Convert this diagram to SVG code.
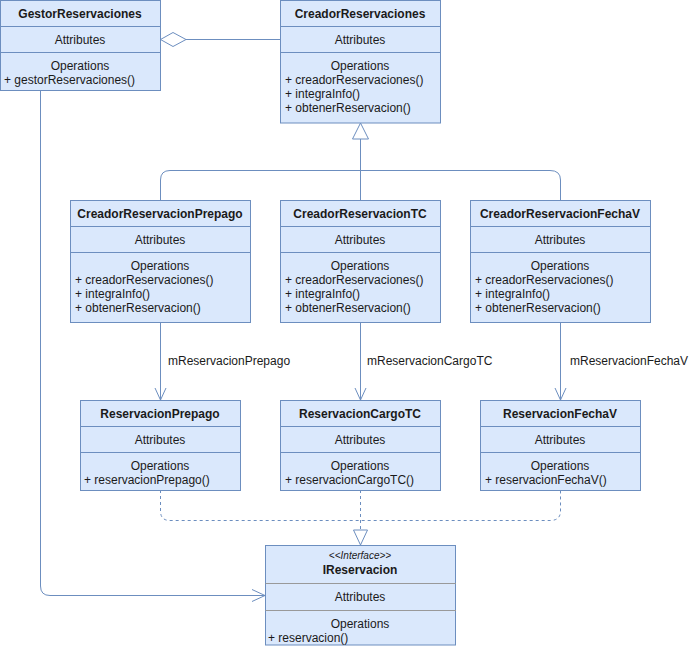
<svg xmlns="http://www.w3.org/2000/svg" width="690" height="646" viewBox="0 0 690 646">
<style>
.box{fill:#dae8fc;stroke:#6c8ebf;stroke-width:1}
.div{stroke:#6c8ebf;stroke-width:1}
.gdiv{stroke:#999999;stroke-width:1}
text{font-family:"Liberation Sans",Arial,sans-serif;font-size:12px;fill:#1a1a1a}
.t{font-weight:bold;text-anchor:middle}
.c{text-anchor:middle}
.it{font-style:italic;font-size:10px;text-anchor:middle}
.ln{fill:none;stroke:#6c8ebf;stroke-width:1}
.dash{fill:none;stroke:#6c8ebf;stroke-width:1;stroke-dasharray:3 3}
.head{fill:none;stroke:#6c8ebf;stroke-width:1}
.tri{fill:#ffffff;stroke:#6c8ebf;stroke-width:1}
</style>
<rect width="690" height="646" fill="#ffffff"/>
<g id="connectors">
  <line class="ln" x1="186" y1="39.5" x2="280" y2="39.5"/>
  <polygon class="tri" points="160.5,39.5 173,32.5 186,39.5 173,46.5"/>
  <path class="ln" d="M160.5,200 V180 Q160.5,170.5 170,170.5 H550 Q560.5,170.5 560.5,180 V200"/>
  <line class="ln" x1="360.5" y1="139" x2="360.5" y2="200"/>
  <polygon class="tri" points="360.5,123 352.5,139 368.5,139"/>
  <line class="ln" x1="160.5" y1="322" x2="160.5" y2="400"/>
  <polyline class="head" points="155,388 160.5,400 166,388"/>
  <line class="ln" x1="360.5" y1="322" x2="360.5" y2="400"/>
  <polyline class="head" points="355,388 360.5,400 366,388"/>
  <line class="ln" x1="560.5" y1="322" x2="560.5" y2="400"/>
  <polyline class="head" points="555,388 560.5,400 566,388"/>
  <text x="168" y="365">mReservacionPrepago</text>
  <text x="367" y="365">mReservacionCargoTC</text>
  <text x="570" y="365">mReservacionFechaV</text>
  <path class="dash" d="M160.5,490 V511 Q160.5,520.5 170,520.5 H550 Q560.5,520.5 560.5,511 V490"/>
  <line class="dash" x1="360.5" y1="490" x2="360.5" y2="530"/>
  <polygon class="tri" points="353.5,530 367.5,530 360.5,545"/>
  <path class="ln" d="M40.5,90 V586 Q40.5,595.5 50,595.5 H265"/>
  <polyline class="head" points="252,589.5 265,595.5 252,601.5"/>
</g>
<g id="GestorReservaciones">
  <rect class="box" x="0.5" y="0.5" width="160" height="90"/>
  <line class="div" x1="0.5" y1="26.5" x2="160.5" y2="26.5"/>
  <line class="div" x1="0.5" y1="52.5" x2="160.5" y2="52.5"/>
  <text class="t" x="80" y="18">GestorReservaciones</text>
  <text class="c" x="80" y="44">Attributes</text>
  <text class="c" x="80" y="70">Operations</text>
  <text x="4" y="84">+ gestorReservaciones()</text>
</g>
<g id="CreadorReservaciones">
  <rect class="box" x="280.5" y="0.5" width="160" height="122.5"/>
  <line class="div" x1="280.5" y1="26.5" x2="440.5" y2="26.5"/>
  <line class="div" x1="280.5" y1="52.5" x2="440.5" y2="52.5"/>
  <text class="t" x="360" y="18">CreadorReservaciones</text>
  <text class="c" x="360" y="44">Attributes</text>
  <text class="c" x="360" y="70">Operations</text>
  <text x="285" y="84">+ creadorReservaciones()</text>
  <text x="285" y="98">+ integraInfo()</text>
  <text x="285" y="112">+ obtenerReservacion()</text>
</g>
<g id="CreadorReservacionPrepago">
  <rect class="box" x="70.5" y="200.5" width="180" height="122"/>
  <line class="div" x1="70.5" y1="226.5" x2="250.5" y2="226.5"/>
  <line class="div" x1="70.5" y1="252.5" x2="250.5" y2="252.5"/>
  <text class="t" x="160" y="218">CreadorReservacionPrepago</text>
  <text class="c" x="160" y="244">Attributes</text>
  <text class="c" x="160" y="270">Operations</text>
  <text x="75" y="284">+ creadorReservaciones()</text>
  <text x="75" y="298">+ integraInfo()</text>
  <text x="75" y="312">+ obtenerReservacion()</text>
</g>
<g id="CreadorReservacionTC">
  <rect class="box" x="280.5" y="200.5" width="160" height="122"/>
  <line class="div" x1="280.5" y1="226.5" x2="440.5" y2="226.5"/>
  <line class="div" x1="280.5" y1="252.5" x2="440.5" y2="252.5"/>
  <text class="t" x="360" y="218">CreadorReservacionTC</text>
  <text class="c" x="360" y="244">Attributes</text>
  <text class="c" x="360" y="270">Operations</text>
  <text x="285" y="284">+ creadorReservaciones()</text>
  <text x="285" y="298">+ integraInfo()</text>
  <text x="285" y="312">+ obtenerReservacion()</text>
</g>
<g id="CreadorReservacionFechaV">
  <rect class="box" x="470.5" y="200.5" width="180" height="122"/>
  <line class="div" x1="470.5" y1="226.5" x2="650.5" y2="226.5"/>
  <line class="div" x1="470.5" y1="252.5" x2="650.5" y2="252.5"/>
  <text class="t" x="560" y="218">CreadorReservacionFechaV</text>
  <text class="c" x="560" y="244">Attributes</text>
  <text class="c" x="560" y="270">Operations</text>
  <text x="475" y="284">+ creadorReservaciones()</text>
  <text x="475" y="298">+ integraInfo()</text>
  <text x="475" y="312">+ obtenerReservacion()</text>
</g>
<g id="ReservacionPrepago">
  <rect class="box" x="80.5" y="400.5" width="160" height="90"/>
  <line class="div" x1="80.5" y1="426.5" x2="240.5" y2="426.5"/>
  <line class="div" x1="80.5" y1="452.5" x2="240.5" y2="452.5"/>
  <text class="t" x="160" y="418">ReservacionPrepago</text>
  <text class="c" x="160" y="444">Attributes</text>
  <text class="c" x="160" y="470">Operations</text>
  <text x="84" y="484">+ reservacionPrepago()</text>
</g>
<g id="ReservacionCargoTC">
  <rect class="box" x="280.5" y="400.5" width="160" height="90"/>
  <line class="div" x1="280.5" y1="426.5" x2="440.5" y2="426.5"/>
  <line class="div" x1="280.5" y1="452.5" x2="440.5" y2="452.5"/>
  <text class="t" x="360" y="418">ReservacionCargoTC</text>
  <text class="c" x="360" y="444">Attributes</text>
  <text class="c" x="360" y="470">Operations</text>
  <text x="285" y="484">+ reservacionCargoTC()</text>
</g>
<g id="ReservacionFechaV">
  <rect class="box" x="480.5" y="400.5" width="160" height="90"/>
  <line class="div" x1="480.5" y1="426.5" x2="640.5" y2="426.5"/>
  <line class="div" x1="480.5" y1="452.5" x2="640.5" y2="452.5"/>
  <text class="t" x="560" y="418">ReservacionFechaV</text>
  <text class="c" x="560" y="444">Attributes</text>
  <text class="c" x="560" y="470">Operations</text>
  <text x="485" y="484">+ reservacionFechaV()</text>
</g>
<g id="IReservacion">
  <rect class="box" x="265.5" y="545.5" width="190" height="99.5"/>
  <line class="gdiv" x1="265.5" y1="583.5" x2="456" y2="583.5"/>
  <line class="gdiv" x1="265.5" y1="610.5" x2="456" y2="610.5"/>
  <text class="it" x="360" y="559">&lt;&lt;Interface&gt;&gt;</text>
  <text class="t" x="360" y="574">IReservacion</text>
  <text class="c" x="360" y="601">Attributes</text>
  <text class="c" x="360" y="628">Operations</text>
  <text x="268" y="642">+ reservacion()</text>
</g>
</svg>
